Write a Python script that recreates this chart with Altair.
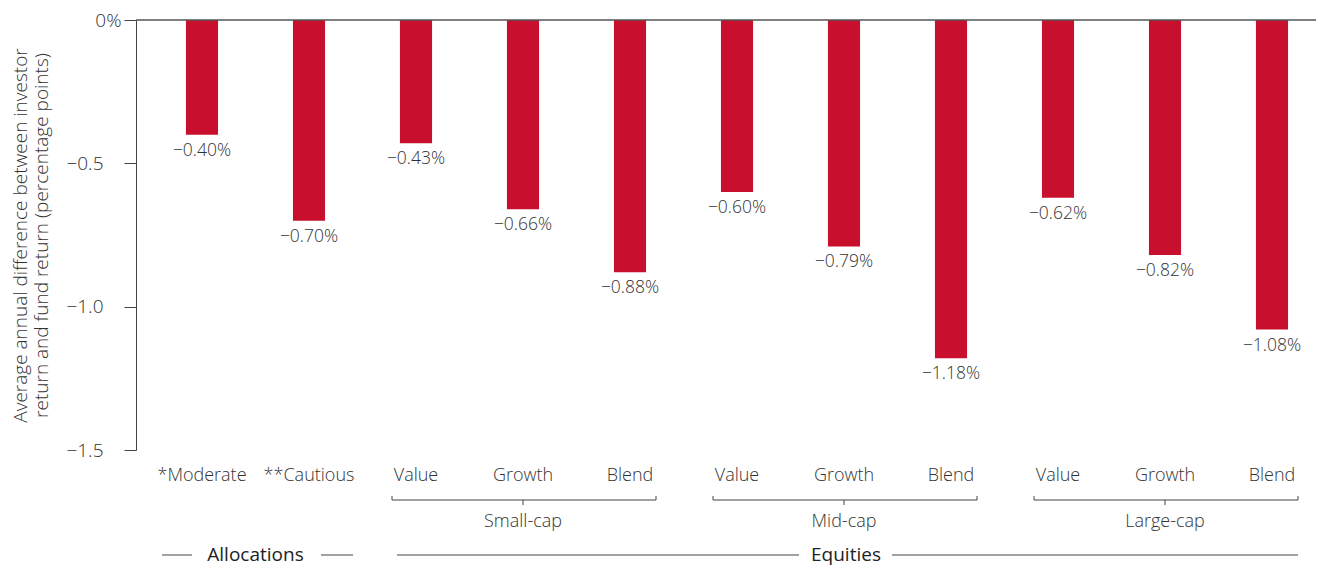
import altair as alt
import pandas as pd

# ---- data ----
keys = [
    "Allocations|*Moderate", "Allocations|**Cautious",
    "Small-cap|Value", "Small-cap|Growth", "Small-cap|Blend",
    "Mid-cap|Value", "Mid-cap|Growth", "Mid-cap|Blend",
    "Large-cap|Value", "Large-cap|Growth", "Large-cap|Blend",
]
values = [-0.40, -0.70, -0.43, -0.66, -0.88, -0.60, -0.79, -1.18, -0.62, -0.82, -1.08]

group_names = ["Small-cap", "Mid-cap", "Large-cap"]
group_first = ["Small-cap|Value", "Mid-cap|Value", "Large-cap|Value"]
group_mid = ["Small-cap|Growth", "Mid-cap|Growth", "Large-cap|Growth"]
group_last = ["Small-cap|Blend", "Mid-cap|Blend", "Large-cap|Blend"]

y_ticks = [0, -0.5, -1.0, -1.5]
y_title = ["Average annual difference between investor", "return and fund return (percentage points)"]

FONT = "Open Sans"
TXT = "#333333"
RED = "#C8102E"
LINE = "#444444"

df = pd.DataFrame({"key": keys, "value": values})
groups = pd.DataFrame({"name": group_names, "first": group_first, "mid": group_mid, "last": group_last})
one = pd.DataFrame({"k": [0]})

xscale = alt.Scale(domain=keys, range=[12.5, 1189.5], paddingInner=0.7, paddingOuter=0.35)

base = alt.Chart(df)

bars = base.mark_bar(color=RED).encode(
    x=alt.X("key:N", scale=xscale, sort=keys,
            axis=alt.Axis(title=None, domain=False, ticks=False, labelAngle=0,
                          labelExpr="split(datum.label, '|')[1]",
                          labelFont=FONT, labelFontSize=18, labelColor=TXT,
                          labelPadding=16, labelFontWeight=300)),
    y=alt.Y("value:Q", scale=alt.Scale(domain=[-1.5, 0], nice=False),
            axis=alt.Axis(values=y_ticks, title=y_title,
                          labelExpr="datum.value == 0 ? '0%' : format(datum.value, '.1f')",
                          labelFont=FONT, labelFontSize=19, labelColor=TXT, labelFontWeight=300,
                          labelPadding={"condition": {"test": "datum.value == 0", "value": 3}, "value": 21},
                          tickSize=12, tickColor=LINE, domainColor=LINE,
                          grid=False, titleFont=FONT, titleFontSize=19, titleFontWeight=300,
                          titleColor=TXT, titleLineHeight=21, titlePadding=14)),
)

labels = base.transform_calculate(
    lab="format(datum.value, '.2f') + '%'"
).mark_text(baseline="middle", dy=16, font=FONT, fontSize=17.5, fontWeight=300, color=TXT).encode(
    x=alt.X("key:N", scale=xscale, sort=keys),
    y="value:Q",
    text="lab:N",
)

zero = alt.Chart(one).mark_rule(color="#555555", strokeWidth=1.5).encode(y=alt.datum(0))

gbase = alt.Chart(groups)
bracket = gbase.mark_rule(color=LINE, strokeWidth=1, xOffset=-24, x2Offset=26).encode(
    x=alt.X("first:N", scale=xscale), x2="last:N", y=alt.value(480))
tick_l = gbase.mark_rule(color=LINE, strokeWidth=1, xOffset=-24).encode(
    x=alt.X("first:N", scale=xscale), y=alt.value(476), y2=alt.value(480))
tick_r = gbase.mark_rule(color=LINE, strokeWidth=1, xOffset=26).encode(
    x=alt.X("last:N", scale=xscale), y=alt.value(476), y2=alt.value(480))
tick_m = gbase.mark_rule(color=LINE, strokeWidth=1).encode(
    x=alt.X("mid:N", scale=xscale), y=alt.value(480), y2=alt.value(485))
gtext = gbase.mark_text(font=FONT, fontSize=18, fontWeight=300, color=TXT, baseline="middle").encode(
    x=alt.X("mid:N", scale=xscale), y=alt.value(502), text="name:N")

# super-group row
sup = pd.DataFrame({
    "name": ["Allocations", "Equities"],
    "a": ["Allocations|*Moderate", "Small-cap|Value"],
    "b": ["Allocations|**Cautious", "Large-cap|Blend"],
    "m": ["Allocations|*Moderate", "Mid-cap|Growth"],
})
sbase = alt.Chart(sup)
alloc = sbase.transform_filter("datum.name == 'Allocations'")
equ = sbase.transform_filter("datum.name == 'Equities'")

ROW_Y = 535

a_left = alloc.mark_rule(color=LINE, xOffset=-40, x2Offset=-10).encode(
    x=alt.X("a:N", scale=xscale), x2="a:N", y=alt.value(ROW_Y))
a_right = alloc.mark_rule(color=LINE, xOffset=12, x2Offset=44).encode(
    x=alt.X("b:N", scale=xscale), x2="b:N", y=alt.value(ROW_Y))
a_text = alloc.mark_text(font=FONT, fontSize=19, color="#222222", baseline="middle", dx=53.5).encode(
    x=alt.X("m:N", scale=xscale), y=alt.value(ROW_Y), text="name:N")

e_left = equ.mark_rule(color=LINE, xOffset=-19, x2Offset=-45).encode(
    x=alt.X("a:N", scale=xscale), x2="m:N", y=alt.value(ROW_Y))
e_right = equ.mark_rule(color=LINE, xOffset=48, x2Offset=26).encode(
    x=alt.X("m:N", scale=xscale), x2="b:N", y=alt.value(ROW_Y))
e_text = equ.mark_text(font=FONT, fontSize=19, color="#222222", baseline="middle", dx=2).encode(
    x=alt.X("m:N", scale=xscale), y=alt.value(ROW_Y), text="name:N")

chart = alt.layer(
    bars, labels, zero, bracket, tick_l, tick_r, tick_m, gtext,
    a_left, a_right, a_text, e_left, e_right, e_text,
).properties(
    width=1180, height=430,
    autosize=alt.AutoSizeParams(type="none"),
    padding={"left": 128, "top": 12, "right": 0, "bottom": 117},
).configure_view(stroke=None)

chart.save("out.html", embed_options={"renderer": "svg", "actions": False})
